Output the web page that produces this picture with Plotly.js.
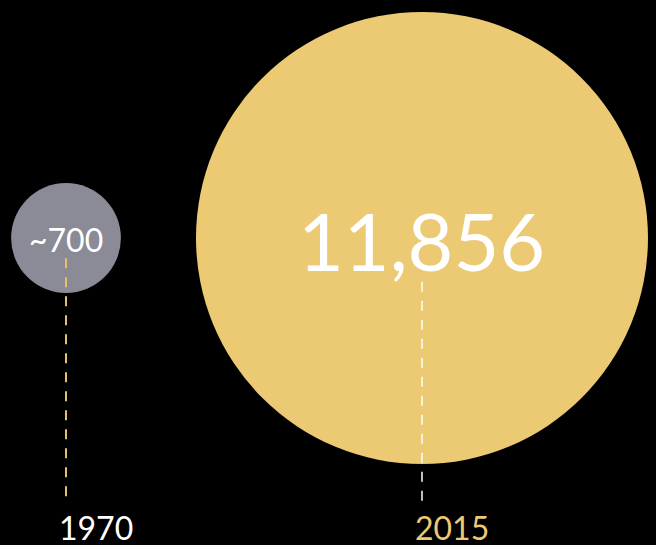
<!DOCTYPE html>
<html>
<head>
<meta charset="utf-8">
<script src="https://cdn.plot.ly/plotly-3.0.1.min.js"></script>
<style>
html,body{margin:0;padding:0;background:#000;}
#chart{width:656px;height:545px;}
</style>
</head>
<body>
<div id="chart"></div>
<script>
// ---- data ----
var years = [1970, 2015];
var values = [700, 11856];
var valueLabels = ["~700", "11,856"];
var yearLabels = ["1970", "2015"];

// ---- styles ----
var bubbleColors = ["#8a8b96", "#ecc973"];
var valueFontSizes = [32, 79];
var valueShifts = [-2, -3];
var yearLabelColors = ["#ffffff", "#ecc973"];
var stemColors = ["#e6c06f", "#ffffff"];
var stemWidths = [2, 1.5];
var stemTop = [0.526, 0.483];   // paper fraction
var stemBottom = [0.077, 0.069];
var maxDiameter = 452;

var trace = {
  type: "scatter",
  mode: "markers",
  x: years,
  y: years.map(function(){ return 0; }),
  marker: {
    size: values,
    sizemode: "area",
    sizeref: 2 * Math.max.apply(null, values) / (maxDiameter * maxDiameter),
    color: bubbleColors,
    line: {width: 0},
    opacity: 1
  },
  cliponaxis: false,
  hoverinfo: "skip"
};

var shapes = years.map(function(yr, i){
  return {
    type: "line", xref: "x", yref: "paper",
    x0: yr, x1: yr, y0: stemTop[i], y1: stemBottom[i],
    line: {color: stemColors[i], width: stemWidths[i], dash: "10px,9px"},
    layer: "above"
  };
});

var valueAnns = years.map(function(yr, i){
  return {
    x: yr, xref: "x", y: 0, yref: "y",
    text: valueLabels[i], showarrow: false,
    xanchor: "center", yanchor: "middle", yshift: valueShifts[i],
    font: {family: "Lato", size: valueFontSizes[i], color: "#ffffff"}
  };
});

var yearAnns = years.map(function(yr, i){
  return {
    x: yr, xref: "x", y: 0.033, yref: "paper",
    text: yearLabels[i], showarrow: false,
    xanchor: "left", yanchor: "middle", xshift: -9,
    font: {family: "Lato", size: 32, color: yearLabelColors[i]}
  };
});

var layout = {
  width: 656, height: 545,
  margin: {l: 0, r: 0, t: 0, b: 0, pad: 0},
  paper_bgcolor: "#000000",
  plot_bgcolor: "#000000",
  showlegend: false,
  hovermode: false,
  xaxis: {range: [1961.657, 2044.58], visible: false, fixedrange: true},
  yaxis: {range: [-1.29, 1], visible: false, fixedrange: true},
  shapes: shapes,
  annotations: valueAnns.concat(yearAnns),
  font: {family: "Lato"}
};

Plotly.newPlot("chart", [trace], layout, {displayModeBar: false, staticPlot: true});
</script>
</body>
</html>
